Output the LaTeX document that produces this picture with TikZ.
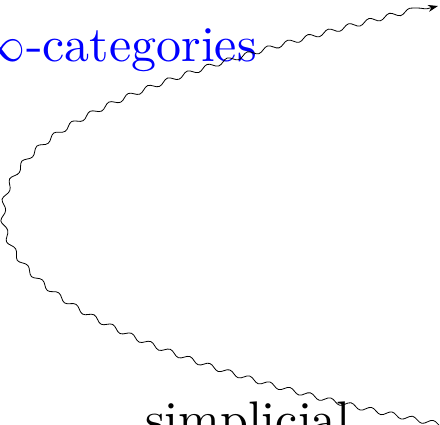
\documentclass[tikz,border=0pt]{standalone}
\usepackage{tikz}
\usetikzlibrary{arrows.meta,decorations.pathmorphing}
\definecolor{catblue}{rgb}{0, 0, 1}

\begin{document}
\begin{tikzpicture}[
		x=1pt,
		y=-1pt,
		>={Stealth[length=10pt,width=7pt]},
		every node/.style={font=\normalsize, scale=5, inner sep=0pt},
		squiggle/.style={
			decorate,
			decoration={snake, segment length=21pt, amplitude=2.5pt, post length=8pt}
		}
	]
		\clip (0,0) rectangle (440,425);

		\node[anchor=base west, text=catblue] (cat)
			at (-25,62) {$\infty$-categories};
		\node[anchor=base west] (simp)
			at (144,437) {simplicial};

		\coordinate (from) at (470,430);
		\coordinate (bend) at (8,215);
		\coordinate (to) at (438,6);

		\draw[->, line width=0.8pt, squiggle]
			(from) .. controls (200,380) and (8,305) .. (bend)
			.. controls (8,120) and (200,65) .. (to);
	\end{tikzpicture}
\end{document}
